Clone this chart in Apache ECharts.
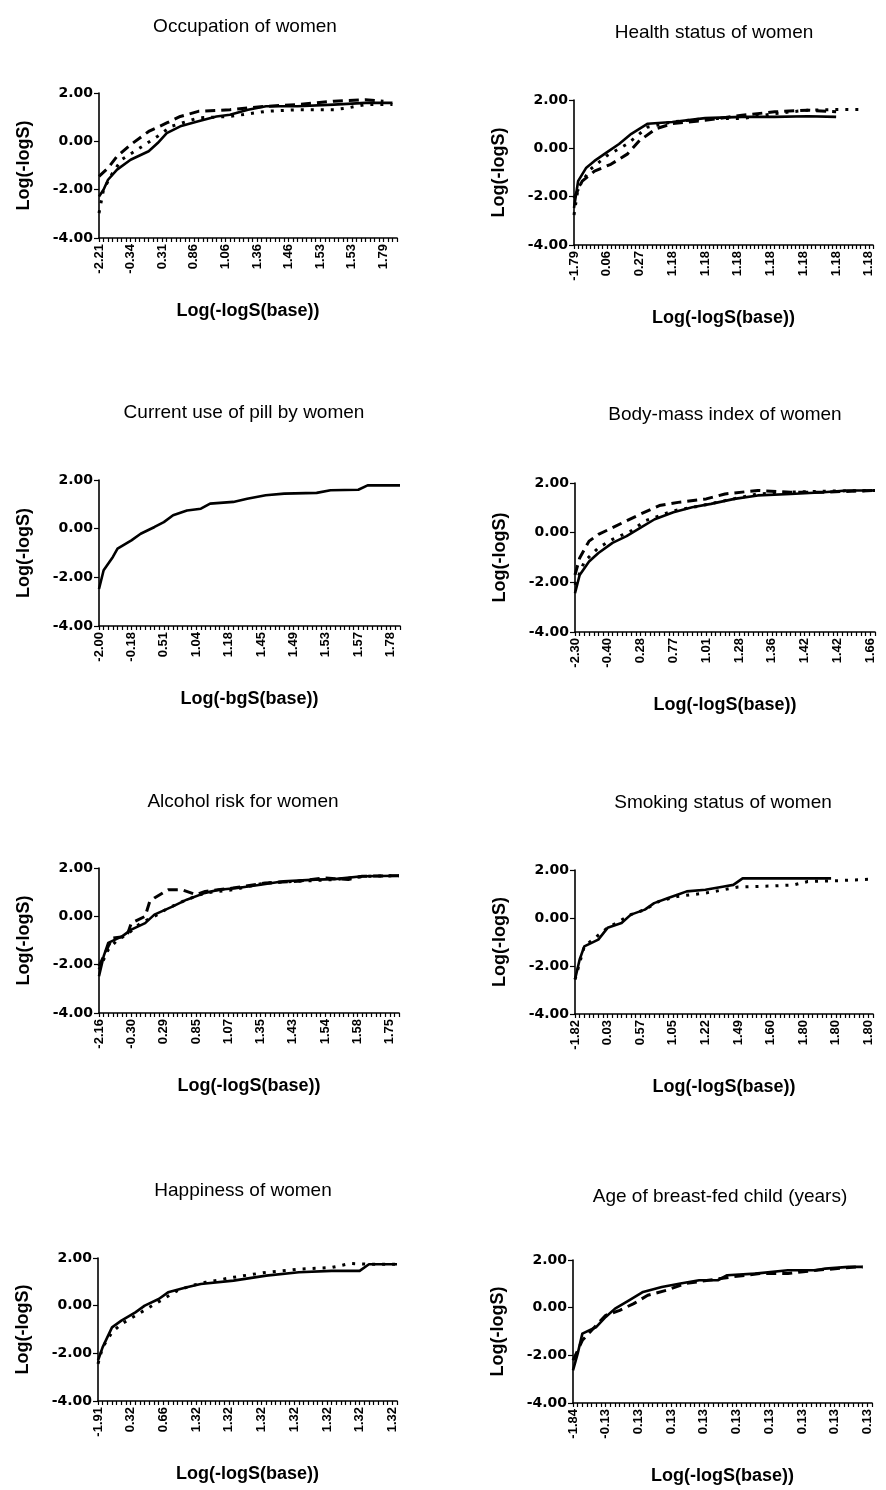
<!DOCTYPE html>
<html>
<head>
<meta charset="utf-8">
<script src="https://cdn.jsdelivr.net/npm/echarts@6/dist/echarts.min.js"></script>
<style>
html,body{margin:0;padding:0;background:#fff;}
#c{width:886px;height:1490px;}
</style>
</head>
<body>
<div id="c"></div>
<script>
// ---------- DATA ----------
// Tick labels (one per labelled category, every k-th category)
var occLabels = ['-2.21','-0.34','0.31','0.86','1.06','1.36','1.46','1.53','1.53','1.79'];
var healthLabels = ['-1.79','0.06','0.27','1.18','1.18','1.18','1.18','1.18','1.18','1.18'];
var pillLabels = ['-2.00','-0.18','0.51','1.04','1.18','1.45','1.49','1.53','1.57','1.78'];
var bmiLabels = ['-2.30','-0.40','0.28','0.77','1.01','1.28','1.36','1.42','1.42','1.66'];
var alcLabels = ['-2.16','-0.30','0.29','0.85','1.07','1.35','1.43','1.54','1.58','1.75'];
var smokeLabels = ['-1.82','0.03','0.57','1.05','1.22','1.49','1.60','1.80','1.80','1.80'];
var happyLabels = ['-1.91','0.32','0.66','1.32','1.32','1.32','1.32','1.32','1.32','1.32'];
var breastLabels = ['-1.84','-0.13','0.13','0.13','0.13','0.13','0.13','0.13','0.13','0.13'];

// Series values: [category index, Log(-logS)]
var occSolid = [[0,-2.28],[1,-2.0],[2,-1.59],[4,-1.17],[7,-0.76],[11,-0.41],[13,-0.07],[15,0.34],[18,0.62],[22,0.83],[26,1.03],[29,1.10],[33,1.31],[37,1.45],[44,1.45],[52,1.52],[59,1.59],[65,1.59]];
var occDashed = [[0,-1.45],[2,-1.1],[4,-0.62],[7,-0.14],[11,0.41],[15,0.76],[18,1.03],[22,1.24],[29,1.31],[37,1.45],[44,1.52],[52,1.66],[59,1.72],[63,1.66]];
var occDotted = [[0,-2.97],[1,-2.0],[3,-1.31],[5,-0.76],[9,-0.28],[13,0.21],[16,0.62],[22,0.97],[29,1.03],[37,1.24],[44,1.31],[52,1.31],[55,1.38],[59,1.52],[65,1.52]];

var healthSolid = [[0,-2.47],[1,-1.36],[3,-0.80],[5,-0.52],[8,-0.17],[11,0.18],[14,0.60],[18,1.02],[24,1.09],[32,1.25],[41,1.30],[49,1.30],[57,1.33],[64,1.30]];
var healthDashed = [[0,-2.06],[2,-1.36],[5,-0.94],[9,-0.66],[13,-0.24],[16,0.32],[20,0.81],[24,1.02],[32,1.16],[41,1.37],[49,1.51],[57,1.58],[64,1.51]];
var healthDotted = [[0,-2.76],[1,-1.64],[4,-0.87],[8,-0.31],[13,0.18],[18,0.88],[24,1.09],[32,1.23],[41,1.23],[49,1.44],[57,1.58],[65,1.61],[71,1.61]];

var pillSolid = [[0,-2.48],[1,-1.71],[3,-1.16],[4,-0.82],[7,-0.48],[9,-0.21],[12,0.07],[14,0.27],[16,0.55],[19,0.75],[22,0.82],[24,1.03],[29,1.10],[32,1.23],[36,1.37],[40,1.44],[47,1.47],[50,1.58],[56,1.60],[58,1.78],[65,1.78]];

var bmiSolid = [[0,-2.44],[1,-1.70],[3,-1.16],[5,-0.82],[8,-0.41],[11,-0.14],[14,0.20],[17,0.54],[21,0.82],[25,1.02],[29,1.16],[34,1.36],[39,1.50],[46,1.56],[53,1.63],[58,1.70],[64,1.70]];
var bmiDashed = [[0,-1.70],[1,-1.02],[3,-0.34],[5,-0.07],[8,0.20],[11,0.48],[14,0.75],[18,1.09],[22,1.22],[28,1.36],[32,1.56],[39,1.70],[46,1.63],[53,1.63],[64,1.70]];
var bmiDotted = [[0,-2.10],[2,-1.16],[5,-0.61],[8,-0.27],[12,0.07],[15,0.48],[21,0.88],[27,1.09],[32,1.29],[39,1.56],[46,1.63],[53,1.67],[64,1.70]];

var alcSolid = [[0,-2.48],[1,-1.66],[2,-1.10],[5,-0.83],[7,-0.55],[10,-0.28],[12,0.07],[16,0.41],[19,0.69],[23,0.97],[26,1.10],[30,1.17],[35,1.31],[40,1.45],[47,1.52],[51,1.54],[57,1.66],[65,1.68]];
var alcDashed = [[0,-2.07],[2,-1.24],[3,-0.90],[6,-0.83],[7,-0.28],[10,0.0],[11,0.62],[12,0.76],[15,1.10],[18,1.10],[21,0.90],[23,1.03],[29,1.17],[36,1.38],[43,1.45],[49,1.59],[54,1.52],[57,1.66],[65,1.68]];
var alcDotted = [[0,-2.21],[2,-1.38],[4,-0.97],[6,-0.76],[9,-0.28],[12,0.0],[15,0.34],[19,0.69],[23,0.97],[29,1.10],[36,1.38],[43,1.45],[51,1.52],[58,1.66],[65,1.68]];

var smokeSolid = [[0,-2.56],[1,-1.73],[2,-1.18],[5,-0.90],[7,-0.41],[10,-0.21],[12,0.14],[15,0.35],[17,0.62],[20,0.83],[22,0.97],[24,1.11],[28,1.18],[32,1.31],[34,1.38],[36,1.65],[43,1.65],[55,1.65]];
var smokeDotted = [[0,-2.56],[2,-1.18],[7,-0.41],[12,0.14],[15,0.35],[18,0.69],[22,0.90],[28,1.04],[32,1.18],[35,1.29],[43,1.34],[47,1.38],[50,1.52],[57,1.56],[64,1.62]];

var happySolid = [[0,-2.30],[1,-1.74],[3,-0.91],[5,-0.63],[8,-0.28],[10,0.0],[13,0.28],[15,0.56],[19,0.77],[22,0.91],[29,1.05],[36,1.26],[43,1.40],[50,1.46],[56,1.46],[58,1.74],[64,1.74]];
var happyDotted = [[0,-2.44],[1,-1.74],[3,-1.12],[5,-0.77],[8,-0.42],[11,-0.07],[14,0.28],[17,0.63],[20,0.84],[23,0.98],[29,1.19],[36,1.40],[43,1.53],[50,1.60],[54,1.77],[58,1.74],[64,1.74]];

var breastSolid = [[0,-2.63],[1,-1.93],[2,-1.09],[5,-0.81],[7,-0.39],[9,-0.04],[12,0.31],[15,0.66],[19,0.87],[23,1.01],[27,1.15],[31,1.15],[33,1.36],[39,1.43],[46,1.57],[52,1.57],[54,1.64],[59,1.71],[62,1.71]];
var breastDashed = [[0,-2.21],[2,-1.37],[4,-0.95],[7,-0.32],[10,-0.11],[13,0.17],[16,0.52],[20,0.73],[24,1.01],[29,1.15],[34,1.29],[40,1.43],[46,1.43],[52,1.57],[61,1.71],[62,1.71]];

var yTicks = [-4, -2, 0, 2];

// ---------- LAYOUT ----------
var panels = [
  {title:'Occupation of women', tx:240, ty:12, left:99, top:93, width:298, height:145, n:67, k:7, labels:occLabels, xname:'Log(-logS(base))',
   series:[{d:occSolid,s:'solid'},{d:occDashed,s:'dashed'},{d:occDotted,s:'dotted'}]},
  {title:'Health status of women', tx:709, ty:18, left:574, top:100, width:299, height:145, n:74, k:8, labels:healthLabels, xname:'Log(-logS(base))',
   series:[{d:healthSolid,s:'solid'},{d:healthDashed,s:'dashed'},{d:healthDotted,s:'dotted'}]},
  {title:'Current use of pill by women', tx:239, ty:398, left:99, top:480, width:301, height:146, n:66, k:7, labels:pillLabels, xname:'Log(-bgS(base))',
   series:[{d:pillSolid,s:'solid'}]},
  {title:'Body-mass index of women', tx:720, ty:400, left:575, top:483, width:300, height:149, n:65, k:7, labels:bmiLabels, xname:'Log(-logS(base))',
   series:[{d:bmiSolid,s:'solid'},{d:bmiDashed,s:'dashed'},{d:bmiDotted,s:'dotted'}]},
  {title:'Alcohol risk for women', tx:238, ty:787, left:99, top:868, width:300, height:145, n:66, k:7, labels:alcLabels, xname:'Log(-logS(base))',
   series:[{d:alcSolid,s:'solid'},{d:alcDashed,s:'dashed'},{d:alcDotted,s:'dotted'}]},
  {title:'Smoking status of women', tx:718, ty:788, left:575, top:870, width:298, height:144, n:65, k:7, labels:smokeLabels, xname:'Log(-logS(base))',
   series:[{d:smokeSolid,s:'solid'},{d:smokeDotted,s:'dotted'}]},
  {title:'Happiness of women', tx:238, ty:1176, left:98, top:1258, width:299, height:143, n:65, k:7, labels:happyLabels, xname:'Log(-logS(base))',
   series:[{d:happySolid,s:'solid'},{d:happyDotted,s:'dotted'}]},
  {title:'Age of breast-fed child (years)', tx:715, ty:1182, left:573, top:1260, width:299, height:143, n:65, k:7, labels:breastLabels, xname:'Log(-logS(base))',
   series:[{d:breastSolid,s:'solid'},{d:breastDashed,s:'dashed'}]}
];

var styles = {
  solid: {type:'solid', width:2.6},
  dashed: {type:[10,6], width:3},
  dotted: {type:[3,7], width:3}
};

var option = {
  backgroundColor:'#fff',
  animation:false,
  title:[], grid:[], xAxis:[], yAxis:[], series:[]
};

panels.forEach(function(p, gi){
  option.title.push({
    text:p.title, left:p.tx, top:p.ty, textAlign:'center',
    textStyle:{fontFamily:'Liberation Sans, Arial', fontSize:19, fontWeight:'normal', color:'#000'}
  });
  option.grid.push({left:p.left, top:p.top, width:p.width, height:p.height, containLabel:false});
  var cats = [];
  for (var i = 0; i < p.n; i++) cats.push(String(i));
  (function(p){
    option.xAxis.push({
      type:'category', gridIndex:gi, data:cats, boundaryGap:false, position:'bottom',
      name:p.xname, nameLocation:'middle', nameGap:64,
      nameTextStyle:{fontFamily:'Liberation Sans, Arial', fontSize:18, fontWeight:'bold', color:'#000'},
      axisLine:{onZero:false, lineStyle:{color:'#000', width:1.6}},
      axisTick:{show:true, interval:0, length:4, lineStyle:{color:'#000', width:1.2}},
      axisLabel:{interval:p.k-1, rotate:90, margin:6, color:'#000',
        fontFamily:'Liberation Sans, Arial', fontSize:13, fontWeight:'bold',
        formatter:function(v, idx){ return idx % p.k === 0 ? (p.labels[idx / p.k] || '') : ''; }},
      splitLine:{show:false}
    });
  })(p);
  option.yAxis.push({
    type:'value', gridIndex:gi, min:yTicks[0], max:yTicks[yTicks.length-1], interval:2,
    name:'Log(-logS)', nameLocation:'middle', nameGap:66, nameRotate:90,
    nameTextStyle:{fontFamily:'Liberation Sans, Arial', fontSize:18, fontWeight:'bold', color:'#000'},
    axisLine:{show:true, onZero:false, lineStyle:{color:'#000', width:1.6}},
    axisTick:{show:true, length:5, lineStyle:{color:'#000', width:1.2}},
    axisLabel:{margin:6, color:'#000', fontFamily:'DejaVu Sans', fontSize:14, fontWeight:'bold',
      formatter:function(v){ return v.toFixed(2); }},
    splitLine:{show:false}
  });
  p.series.forEach(function(s){
    option.series.push({
      type:'line', xAxisIndex:gi, yAxisIndex:gi, data:s.d,
      showSymbol:false, symbol:'none', smooth:false,
      lineStyle:{color:'#000', width:styles[s.s].width, type:styles[s.s].type, cap:'butt', join:'round'}
    });
  });
});

var chart = echarts.init(document.getElementById('c'), null, {renderer:'canvas'});
chart.setOption(option);
</script>
</body>
</html>
